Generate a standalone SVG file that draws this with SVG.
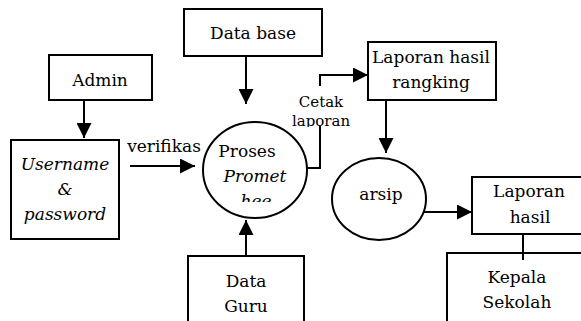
<svg xmlns="http://www.w3.org/2000/svg" width="581" height="321" viewBox="0 0 581 321">
  <style>
    .box { fill: #fff; stroke: #000; stroke-width: 2; }
    .shape { fill: #fff; stroke: #000; stroke-width: 2; }
    .flow { fill: none; stroke: #000; stroke-width: 2; }
    text { font-family: "DejaVu Serif", serif; font-size: 17px; fill: #000; text-anchor: middle; }
    .it { font-style: italic; }
    .small { font-size: 15px; }
  </style>
  <defs>
    <marker id="arrow" markerUnits="userSpaceOnUse" markerWidth="15" markerHeight="15" viewBox="0 0 15 15" refX="15" refY="7.5" orient="auto">
      <path d="M0,0 L15,7.5 L0,15 Z" fill="#000"/>
    </marker>
    <clipPath id="clip-proses">
      <rect x="200" y="120" width="110" height="82"/>
    </clipPath>
    <clipPath id="clip-cetak">
      <rect x="290" y="85" width="70" height="42"/>
    </clipPath>
  </defs>

  <!-- connectors -->
  <g id="connectors">
    <line class="flow" x1="84" y1="100" x2="84" y2="138" marker-end="url(#arrow)"/>
    <line class="flow" x1="130" y1="166" x2="195" y2="166" marker-end="url(#arrow)"/>
    <line class="flow" x1="246" y1="56" x2="246" y2="104" marker-end="url(#arrow)"/>
    <line class="flow" x1="246" y1="256" x2="246" y2="220" marker-end="url(#arrow)"/>
    <polyline class="flow" points="307,168 320,168 320,126"/>
    <polyline class="flow" points="320,86 320,75 368,75" marker-end="url(#arrow)"/>
    <line class="flow" x1="386" y1="100" x2="386" y2="153" marker-end="url(#arrow)"/>
    <line class="flow" x1="424" y1="212" x2="472" y2="212" marker-end="url(#arrow)"/>
    <line class="flow" x1="523" y1="234" x2="523" y2="260"/>
    <text x="164" y="152">verifikas</text>
    <g clip-path="url(#clip-cetak)">
      <text class="small" x="321" y="107">Cetak</text>
      <text class="small" x="321" y="126">laporan</text>
    </g>
  </g>

  <g id="admin">
    <rect class="box" x="49" y="55" width="103" height="45"/>
    <text x="100" y="86">Admin</text>
  </g>

  <g id="username-password">
    <rect class="box" x="11" y="140" width="108" height="99"/>
    <text class="it" x="65" y="170">Username</text>
    <text class="it" x="65" y="195">&amp;</text>
    <text class="it" x="65" y="220">password</text>
  </g>

  <g id="data-base">
    <rect class="box" x="184" y="9" width="138" height="47"/>
    <text x="253" y="39">Data base</text>
  </g>

  <g id="proses">
    <ellipse class="shape" cx="255" cy="170" rx="52" ry="48"/>
    <g clip-path="url(#clip-proses)">
      <text x="247" y="157">Proses</text>
      <text class="it" x="255" y="182">Promet</text>
      <text class="it" x="256" y="207">hee</text>
    </g>
  </g>

  <g id="data-guru">
    <rect class="box" x="188" y="256" width="116" height="70"/>
    <text x="246" y="287">Data</text>
    <text x="246" y="312">Guru</text>
  </g>

  <g id="laporan-rangking">
    <rect class="box" x="368" y="42" width="128" height="58"/>
    <text x="431" y="63">Laporan hasil</text>
    <text x="431" y="88">rangking</text>
  </g>

  <g id="arsip">
    <ellipse class="shape" cx="379" cy="199" rx="47" ry="41"/>
    <text x="381" y="200">arsip</text>
  </g>

  <g id="laporan-hasil">
    <rect class="box" x="472" y="177" width="120" height="57"/>
    <text x="529" y="197">Laporan</text>
    <text x="530" y="223">hasil</text>
  </g>

  <g id="kepala-sekolah">
    <rect class="box" x="447" y="253" width="145" height="80"/>
    <text x="517" y="283">Kepala</text>
    <text x="517" y="308">Sekolah</text>
  </g>

  <!-- upper end of the Laporan hasil / Kepala Sekolah link runs over the box edge -->
  <line class="flow" x1="523" y1="252" x2="523" y2="260"/>
</svg>
